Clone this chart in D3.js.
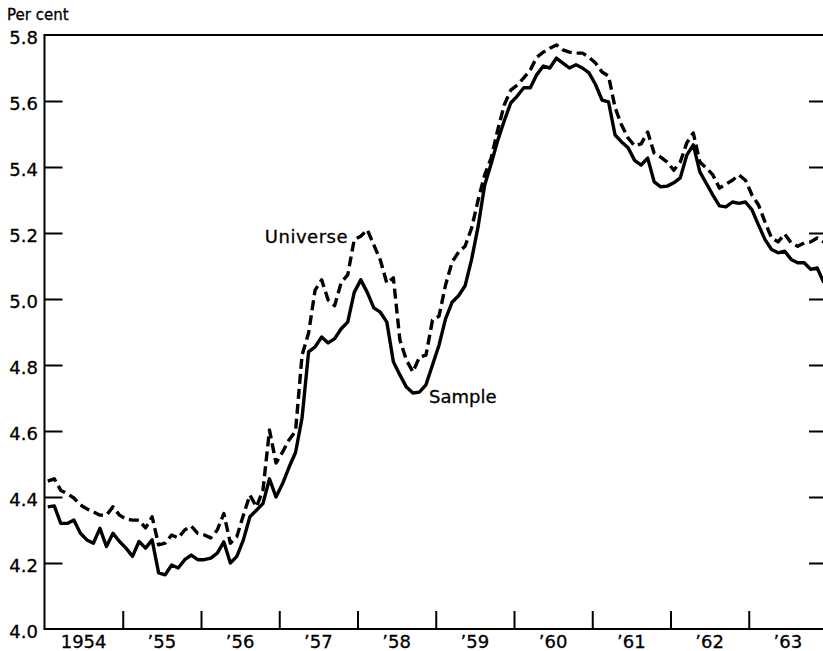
<!DOCTYPE html>
<html>
<head>
<meta charset="utf-8">
<script src="https://cdn.jsdelivr.net/npm/d3@7"></script>
<style>
  html, body { margin: 0; padding: 0; background: #fff; }
  svg { display: block; }
  text { font-family: "DejaVu Sans", sans-serif; fill: #000; }
</style>
</head>
<body>
<div id="chart"></div>
<script>
// ---- Data (monthly, Jan 1954 – Dec 1963), per cent ----
const startYear = 1954;
const endYear = 1964;
const sample = [
  4.37, 4.373, 4.32, 4.32, 4.33, 4.29, 4.27, 4.26, 4.305, 4.25, 4.29, 4.265,
  4.245, 4.22, 4.265, 4.245, 4.27, 4.17, 4.164, 4.194, 4.185, 4.21, 4.224, 4.21,
  4.21, 4.215, 4.23, 4.264, 4.2, 4.22, 4.27, 4.34, 4.36, 4.38, 4.455, 4.40,
  4.44, 4.49, 4.535, 4.64, 4.84, 4.855, 4.885, 4.867, 4.88, 4.91, 4.93, 5.02,
  5.058, 5.02, 4.973, 4.96, 4.93, 4.81, 4.77, 4.733, 4.715, 4.718, 4.74, 4.80,
  4.86, 4.94, 4.99, 5.01, 5.04, 5.12, 5.22, 5.345, 5.41, 5.48, 5.54, 5.594,
  5.615, 5.64, 5.64, 5.68, 5.706, 5.70, 5.73, 5.715, 5.70, 5.71, 5.70, 5.685,
  5.65, 5.603, 5.597, 5.497, 5.476, 5.458, 5.42, 5.406, 5.427, 5.355, 5.34, 5.342,
  5.352, 5.367, 5.436, 5.467, 5.385, 5.35, 5.315, 5.282, 5.279, 5.294, 5.29, 5.294,
  5.27, 5.224, 5.18, 5.15, 5.14, 5.145, 5.12, 5.11, 5.11, 5.09, 5.094, 5.05
];
const universe = [
  4.448, 4.455, 4.42, 4.41, 4.397, 4.376, 4.364, 4.355, 4.345, 4.345, 4.37, 4.345,
  4.333, 4.33, 4.33, 4.306, 4.34, 4.255, 4.26, 4.285, 4.276, 4.3, 4.312, 4.29,
  4.285, 4.276, 4.3, 4.35, 4.26, 4.28, 4.345, 4.406, 4.37, 4.42, 4.603, 4.503,
  4.536, 4.573, 4.6, 4.83, 4.897, 5.027, 5.058, 4.997, 4.98, 5.05, 5.073, 5.18,
  5.19, 5.21, 5.164, 5.118, 5.048, 5.064, 4.876, 4.815, 4.779, 4.824, 4.83, 4.936,
  4.948, 5.042, 5.112, 5.142, 5.16, 5.215, 5.3, 5.376, 5.427, 5.512, 5.588, 5.633,
  5.648, 5.67, 5.694, 5.733, 5.748, 5.76, 5.77, 5.755, 5.748, 5.745, 5.745, 5.733,
  5.715, 5.688, 5.676, 5.58, 5.527, 5.488, 5.464, 5.47, 5.506, 5.442, 5.43, 5.415,
  5.39, 5.415, 5.473, 5.503, 5.415, 5.397, 5.376, 5.336, 5.348, 5.36, 5.376, 5.36,
  5.315, 5.285, 5.233, 5.185, 5.173, 5.197, 5.17, 5.16, 5.17, 5.173, 5.185, 5.173
];
const yTicks = [4.0, 4.2, 4.4, 4.6, 4.8, 5.0, 5.2, 5.4, 5.6, 5.8];
const yearTickValues = [1955, 1956, 1957, 1958, 1959, 1960, 1961, 1962, 1963];
const yearLabels = ["1954", "\u201955", "\u201956", "\u201957", "\u201958", "\u201959", "\u201960", "\u201961", "\u201962", "\u201963"];
const yLabel = "Per cent";
const seriesLabels = { universe: "Universe", sample: "Sample" };

// ---- Layout ----
const W = 823, H = 651;
const pLeft = 44.5, pRight = 827, pTop = 35, pBottom = 629;

const svg = d3.select("#chart").append("svg").attr("width", W).attr("height", H);

const x = d3.scaleLinear().domain([startYear, endYear]).range([pLeft, pRight]);
const y = d3.scaleLinear().domain([4.0, 5.8]).range([pBottom, pTop]);

const monthX = i => x(startYear + (i + 0.5) / 12);

// Frame: left, bottom, top, right
const axisStroke = 2;
svg.append("line").attr("x1", pLeft).attr("x2", pLeft).attr("y1", pTop).attr("y2", pBottom)
  .attr("stroke", "#000").attr("stroke-width", axisStroke);
svg.append("line").attr("x1", pLeft - 1).attr("x2", pRight).attr("y1", pBottom).attr("y2", pBottom)
  .attr("stroke", "#000").attr("stroke-width", axisStroke);
svg.append("line").attr("x1", pLeft - 1).attr("x2", pRight).attr("y1", pTop).attr("y2", pTop)
  .attr("stroke", "#000").attr("stroke-width", axisStroke);
svg.append("line").attr("x1", pRight).attr("x2", pRight).attr("y1", pTop).attr("y2", pBottom)
  .attr("stroke", "#000").attr("stroke-width", axisStroke);

// Left axis inward ticks
const innerTicks = yTicks.filter(v => v > 4.0 && v < 5.8);
const leftAxis = d3.axisRight(y).tickValues(innerTicks).tickSize(18).tickFormat("");
const gl = svg.append("g").attr("transform", `translate(${pLeft},0)`).call(leftAxis);
gl.select(".domain").remove();
gl.selectAll(".tick line").attr("stroke", "#000").attr("stroke-width", 2);

// Right axis inward ticks
const rightAxis = d3.axisLeft(y).tickValues(innerTicks).tickSize(18).tickFormat("");
const gr = svg.append("g").attr("transform", `translate(${pRight},0)`).call(rightAxis);
gr.select(".domain").remove();
gr.selectAll(".tick line").attr("stroke", "#000").attr("stroke-width", 2);

// Y tick labels
svg.append("g").selectAll("text").data(yTicks).join("text")
  .attr("x", 38).attr("y", d => y(d) + 9)
  .attr("text-anchor", "end").attr("font-size", 18)
  .attr("stroke", "#000").attr("stroke-width", 0.3)
  .text(d => d.toFixed(1));

svg.append("text").attr("x", 7).attr("y", 20).attr("font-size", 15)
  .attr("stroke", "#000").attr("stroke-width", 0.3).text(yLabel);

// Bottom axis ticks (year boundaries, upward)
const bottomAxis = d3.axisTop(x).tickValues(yearTickValues).tickSize(18).tickFormat("");
const gb = svg.append("g").attr("transform", `translate(0,${pBottom})`).call(bottomAxis);
gb.select(".domain").remove();
gb.selectAll(".tick line").attr("stroke", "#000").attr("stroke-width", 2);

svg.append("g").selectAll("text").data(yearLabels).join("text")
  .attr("x", (d, i) => x(startYear + i + 0.5))
  .attr("y", 648)
  .attr("text-anchor", "middle").attr("font-size", 18)
  .attr("stroke", "#000").attr("stroke-width", 0.3)
  .text(d => d);

// Lines
const line = d3.line().x((d, i) => monthX(i)).y(d => y(d)).curve(d3.curveLinear);

svg.append("path").datum(universe).attr("d", line)
  .attr("fill", "none").attr("stroke", "#000").attr("stroke-width", 3.4)
  .attr("stroke-dasharray", "10,5").attr("stroke-linejoin", "round");

svg.append("path").datum(sample).attr("d", line)
  .attr("fill", "none").attr("stroke", "#000").attr("stroke-width", 3.4)
  .attr("stroke-linejoin", "round");

// Series labels
svg.append("text").attr("x", 348).attr("y", 243).attr("text-anchor", "end")
  .attr("font-size", 18).attr("letter-spacing", 0.5)
  .attr("stroke", "#000").attr("stroke-width", 0.3).text(seriesLabels.universe);
svg.append("text").attr("x", 429).attr("y", 403)
  .attr("font-size", 18)
  .attr("stroke", "#000").attr("stroke-width", 0.3).text(seriesLabels.sample);
</script>
</body>
</html>
